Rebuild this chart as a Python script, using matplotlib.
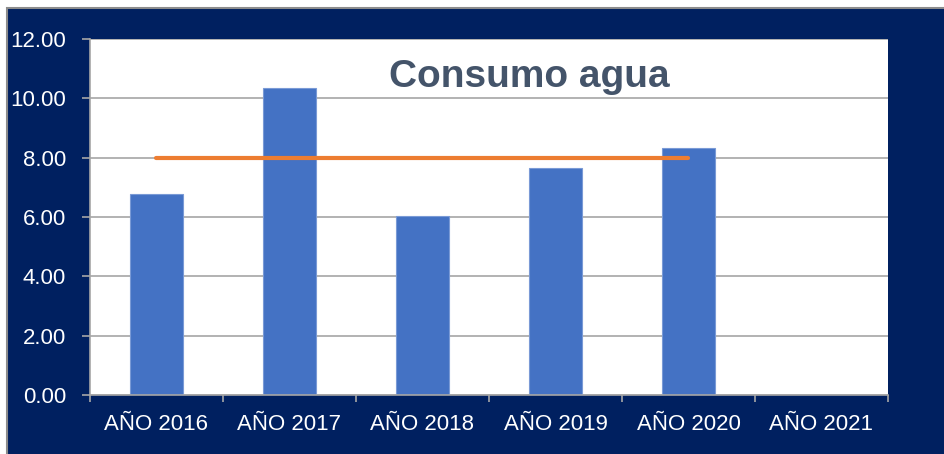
import matplotlib.pyplot as plt
from matplotlib.patches import Rectangle
from matplotlib import font_manager

# data
years = ['AÑO 2016', 'AÑO 2017', 'AÑO 2018', 'AÑO 2019', 'AÑO 2020', 'AÑO 2021']
consumo = [6.77, 10.35, 6.02, 7.65, 8.34, 0.0]
meta = [8.0, 8.0, 8.0, 8.0, 8.0]  # target line, 2016-2020

names = {f.name for f in font_manager.fontManager.ttflist}
narrow = 'Liberation Sans Narrow' if 'Liberation Sans Narrow' in names else 'Liberation Sans'
plt.rcParams['font.family'] = [narrow, 'DejaVu Sans']

W, H = 945, 454
fig = plt.figure(figsize=(W / 100, H / 100), dpi=100)
fig.patch.set_facecolor('white')

# navy frame with grey border
fig.patches.append(Rectangle((7.5 / W, -0.01), 1.0, (H - 7.5) / H + 0.01,
                             transform=fig.transFigure, facecolor='#002060',
                             edgecolor='#8c8c8c', linewidth=1.5, zorder=-5))

ax = fig.add_axes([90 / W, (H - 395) / H, 798 / W, 356 / H])
ax.set_facecolor('white')

x = list(range(len(years)))
ax.bar(x, consumo, width=0.4, color='#4472C4', edgecolor='#7a9ad6',
       linewidth=0.8, zorder=2)
ax.plot(x[:len(meta)], meta, color='#ED7D31', linewidth=3,
        solid_capstyle='round', zorder=3)

ax.set_xlim(-0.5, len(years) - 0.5)
ax.set_ylim(0, 12)
ax.set_yticks([0, 2, 4, 6, 8, 10, 12])
ax.set_yticklabels([f'{v:.2f}' for v in [0, 2, 4, 6, 8, 10, 12]])
ax.set_xticks(x)
ax.set_xticklabels(years)
ax.set_xticks([i - 0.5 for i in range(len(years) + 1)], minor=True)

ax.grid(axis='y', color='#a6a6a6', linewidth=1.2, zorder=1)
ax.set_axisbelow(True)

ax.tick_params(axis='y', colors='#a6a6a6', labelcolor='white',
               labelsize=16, length=5.8, width=1.2, pad=11.5)
ax.tick_params(axis='x', which='major', length=0, labelcolor='white',
               labelsize=16, pad=14)
ax.tick_params(axis='x', which='minor', length=5, width=1.2, colors='#a6a6a6')

for s in ['top', 'right']:
    ax.spines[s].set_visible(False)
for s in ['left', 'bottom']:
    ax.spines[s].set_color('#a6a6a6')
    ax.spines[s].set_linewidth(1.2)

ax.text(0.55, 0.865, 'Consumo agua', transform=ax.transAxes, ha='center',
        va='baseline', fontsize=28, fontweight='bold', color='#44546A')

fig.savefig('out.png', dpi=100, facecolor=fig.get_facecolor())
